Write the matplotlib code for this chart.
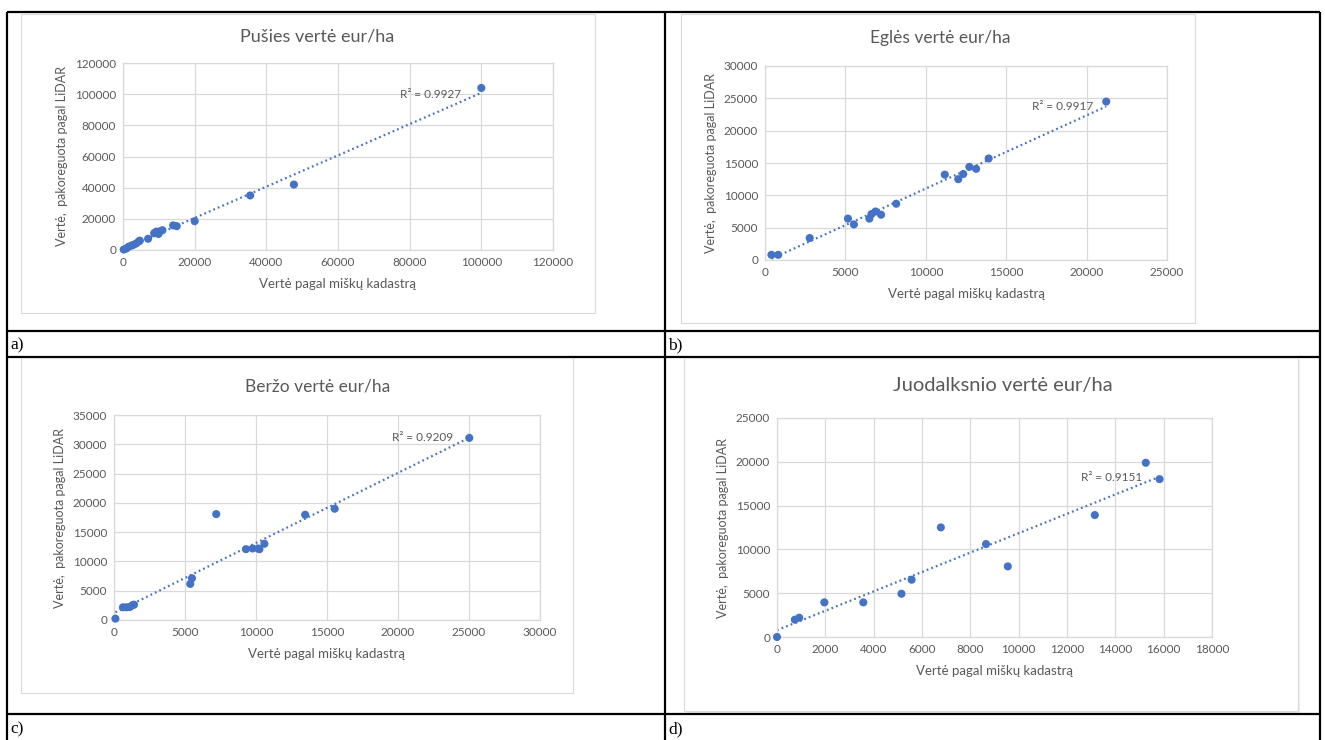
import numpy as np
import matplotlib
matplotlib.use("Agg")
import matplotlib.pyplot as plt
from matplotlib.patches import Rectangle

plt.rcParams['font.family'] = ['Lato', 'DejaVu Sans']

# ---------------- data ----------------
titles = ["Pušies vertė eur/ha", "Eglės vertė eur/ha", "Beržo vertė eur/ha", "Juodalksnio vertė eur/ha"]
captions = ["a)", "b)", "c)", "d)"]
r2_labels = ["R² = 0.9927", "R² = 0.9917", "R² = 0.9209", "R² = 0.9151"]
xlabel = "Vertė pagal miškų kadastrą"
ylabel = "Vertė,  pakoreguota pagal LiDAR"

pine_x = [200, 900, 1500, 2300, 2800, 3600, 4400, 4700, 7000, 8700, 9300, 9900, 10300, 11000,
          14000, 15000, 20000, 35500, 47700, 100000]
pine_y = [300, 900, 2000, 2800, 3200, 4100, 5500, 6000, 7200, 10800, 11800, 10300, 12000, 12700,
          15800, 15300, 18500, 35000, 42000, 104000]

spruce_x = [400, 820, 2780, 5160, 5530, 6490, 6620, 6870, 7220, 8160, 11180, 12020, 12330, 12710,
            13130, 13910, 21220]
spruce_y = [800, 800, 3400, 6400, 5500, 6400, 7100, 7500, 7000, 8700, 13200, 12500, 13300, 14400,
            14100, 15700, 24500]

birch_x = [100, 630, 880, 1120, 1290, 1410, 5370, 5490, 7200, 9290, 9760, 10150, 10240, 10590,
           13460, 15540, 25020]
birch_y = [230, 2170, 2170, 2220, 2510, 2620, 6160, 7130, 18080, 12090, 12210, 12210, 12090, 13010,
           17970, 19000, 31090]

alder_x = [0, 740, 920, 1960, 3570, 5150, 5570, 6780, 8650, 9550, 13150, 15260, 15830]
alder_y = [0, 1980, 2200, 3950, 3950, 4940, 6540, 12510, 10610, 8060, 13920, 19890, 18020]

x_ticks = [np.arange(0, 120001, 20000), np.arange(0, 25001, 5000),
           np.arange(0, 30001, 5000), np.arange(0, 18001, 2000)]
y_ticks = [np.arange(0, 120001, 20000), np.arange(0, 30001, 5000),
           np.arange(0, 35001, 5000), np.arange(0, 25001, 5000)]

series = [(pine_x, pine_y), (spruce_x, spruce_y), (birch_x, birch_y), (alder_x, alder_y)]
r2_pos = [(85800, 100000), (18500, 23700), (21750, 31100), (13860, 18250)]

# ---------------- layout (pixels) ----------------
W, H = 1325, 740
fig = plt.figure(figsize=(W / 100, H / 100), dpi=100)

def fx(x):
    return x / W

def fy(y):
    return 1 - y / H

# plot areas: left, top, right, bottom
axes_px = [(123, 63, 553, 250), (765, 66, 1167, 260), (114, 415, 540, 620), (777, 418, 1212, 637)]
chart_px = [(21, 14, 595, 313), (681, 14, 1195, 323), (21, 358, 573, 693), (684, 358, 1298, 711)]
title_xy = [(317, 37), (940, 38), (318, 386), (1003, 386)]
tick_fs = [8.5, 8.5, 8.5, 8.5]
title_fs = [13.0, 12.5, 12.5, 14.5]
xlabel_fs = [9.5, 9.5, 9.5, 9.5]
ylabel_fs = [9.0, 9.0, 9.0, 9.0]
r2_fs = 8.5

blue = "#4472C4"
gray_txt = "#595959"
grid_c = "#D9D9D9"

# table lines
bg = fig.add_axes([0, 0, 1, 1])
bg.set_xlim(0, W)
bg.set_ylim(H, 0)
bg.axis("off")
lw_t = 1.6
for y in [12, 331, 357, 714]:
    bg.plot([7, 1320], [y, y], color="black", lw=lw_t, solid_capstyle="butt")
for x in [7, 665, 1320]:
    bg.plot([x, x], [12, 740], color="black", lw=lw_t, solid_capstyle="butt")

# chart area boxes
for i, (l, t, r, b) in enumerate(chart_px):
    if i == 3:
        bg.add_patch(Rectangle((l + 2, t + 2), r - l, b - t, facecolor="#EFEFEF", edgecolor="none", zorder=1))
    bg.add_patch(Rectangle((l, t), r - l, b - t, facecolor="white", edgecolor="#D9D9D9", lw=0.8, zorder=2))

# captions
cap_pos = [(10, 345), (668, 345), (10, 729), (668, 729)]
for (cx, cy), c in zip(cap_pos, captions):
    bg.text(cx, cy, c, fontsize=12.5, family=["Liberation Serif"], va="center", ha="left", color="black", zorder=3)

for i in range(4):
    l, t, r, b = axes_px[i]
    ax = fig.add_axes([fx(l), fy(b), fx(r - l), (b - t) / H])
    ax.set_facecolor("none")
    xs, ys = series[i]
    xt, yt = x_ticks[i], y_ticks[i]
    ax.set_xlim(xt[0], xt[-1])
    ax.set_ylim(yt[0], yt[-1])
    ax.set_xticks(xt)
    ax.set_yticks(yt)
    ax.set_xticklabels([str(v) for v in xt])
    ax.set_yticklabels([str(v) for v in yt])
    ax.grid(True, color=grid_c, lw=0.9, zorder=0)
    ax.set_axisbelow(True)
    for s in ax.spines.values():
        s.set_color(grid_c)
        s.set_linewidth(0.9)
    ax.tick_params(length=0, labelsize=tick_fs[i], colors=gray_txt, pad=5)

    # linear trendline (least squares, as Excel)
    k, c0 = np.polyfit(xs, ys, 1)
    xx = np.array([min(xs), max(xs)])
    ax.plot(xx, k * xx + c0, color=blue, lw=1.6, ls=(0, (0.8, 1.4)), zorder=2)
    ax.scatter(xs, ys, s=34, color=blue, zorder=3, clip_on=False, edgecolors="none")

    ax.text(r2_pos[i][0], r2_pos[i][1], r2_labels[i], fontsize=r2_fs, color=gray_txt,
            ha="center", va="center", zorder=4)

    ax.set_xlabel(xlabel, fontsize=xlabel_fs[i], color=gray_txt, labelpad=7)
    ax.set_ylabel(ylabel, fontsize=ylabel_fs[i], color=gray_txt, labelpad=5)

    tx, ty = title_xy[i]
    fig.text(fx(tx), fy(ty), titles[i], fontsize=title_fs[i], color=gray_txt, ha="center", va="center")

fig.savefig("out.png", dpi=100)
